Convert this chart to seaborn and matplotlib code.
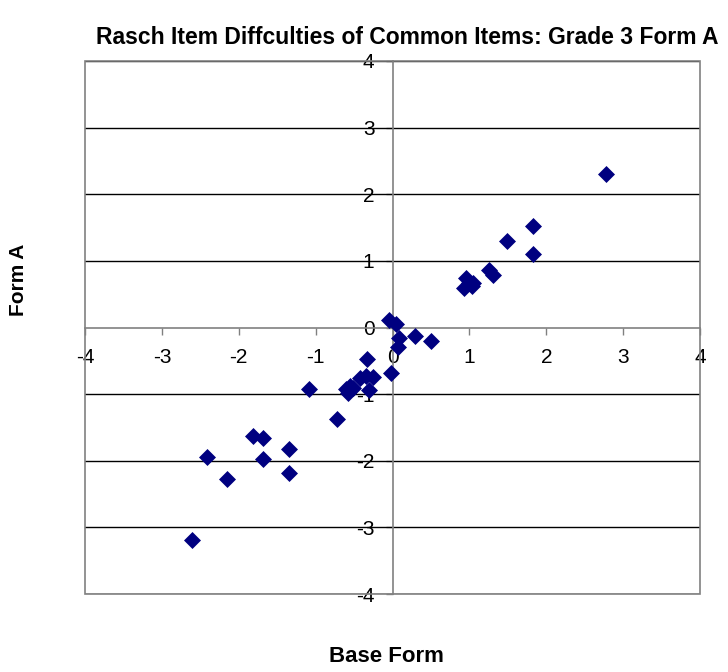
import matplotlib
matplotlib.use("Agg")
import matplotlib.pyplot as plt
import seaborn as sns
import pandas as pd
from matplotlib.patches import Rectangle

base_form = [-2.61, -2.41, -2.15, -1.82, -1.68, -1.68, -1.35, -1.35, -1.09, -0.72,
             -0.61, -0.58, -0.51, -0.55, -0.42, -0.35, -0.33, -0.31, -0.25, -0.04,
             -0.02, 0.05, 0.07, 0.09, 0.29, 0.50, 0.93, 0.95, 0.99, 1.03, 1.05,
             1.25, 1.31, 1.49, 1.83, 1.83, 2.78]
form_a = [-3.19, -1.95, -2.27, -1.63, -1.66, -1.98, -1.82, -2.19, -0.93, -1.37,
          -0.93, -0.98, -0.91, -0.88, -0.76, -0.73, -0.48, -0.94, -0.74, 0.11,
          -0.69, 0.05, -0.30, -0.16, -0.13, -0.20, 0.59, 0.75, 0.67, 0.62, 0.67,
          0.87, 0.79, 1.30, 1.52, 1.11, 2.30]
ticks = [-4, -3, -2, -1, 0, 1, 2, 3, 4]
title = "Rasch Item Diffculties of Common Items: Grade 3 Form A"
xlabel = "Base Form"
ylabel = "Form A"

sns.set_style("white")
plt.rcParams['font.family'] = ['Liberation Sans', 'DejaVu Sans']
plt.rcParams['text.color'] = 'black'

df = pd.DataFrame({"Base Form": base_form, "Form A": form_a})

fig = plt.figure(figsize=(7.28, 6.72), dpi=100)
ax = fig.add_axes([85/728, 1-594/672, 615/728, 533/672])

for t in ticks:
    if t != 0:
        ax.axhline(t, color="black", lw=1.0, zorder=1)

sns.scatterplot(data=df, x="Base Form", y="Form A", marker="D", color="#000080",
                s=75, linewidth=0, ax=ax, zorder=3)

ax.set_xlim(-4, 4)
ax.set_ylim(-4, 4)
ax.set_xticks(ticks)
ax.set_yticks(ticks)
ax.set_xticklabels([str(t) for t in ticks])
ax.set_yticklabels([str(t) for t in ticks])

ax.spines['left'].set_position('zero')
ax.spines['bottom'].set_position('zero')
for s in ['left', 'bottom']:
    ax.spines[s].set_color('#808080')
    ax.spines[s].set_linewidth(1.2)
for s in ['top', 'right']:
    ax.spines[s].set_visible(False)
ax.add_patch(Rectangle((0, 0), 1, 1, transform=ax.transAxes, fill=False,
                       edgecolor='#808080', lw=1.2, zorder=5, clip_on=False))

ax.tick_params(axis='x', direction='out', length=5, width=1, color='#808080',
               pad=10, labelsize=15, bottom=True, labelcolor='black')
ax.tick_params(axis='y', direction='out', length=5, width=1, color='#808080',
               pad=8, labelsize=15, left=True, labelcolor='black')

ax.set_xlabel("")
ax.set_ylabel("")
fig.text(386/728, 1-657/672, xlabel, ha='center', va='center', fontsize=16,
         fontweight='bold', color='black')
fig.text(19/728, 1-280/672, ylabel, ha='center', va='center', fontsize=15,
         fontweight='bold', rotation=90, color='black')

fig.text(407/728, 1-38/672, title, ha='center', va='center', fontsize=16.5,
         fontweight='bold', color='black')

fig.savefig("out.png", dpi=100, facecolor='white')
